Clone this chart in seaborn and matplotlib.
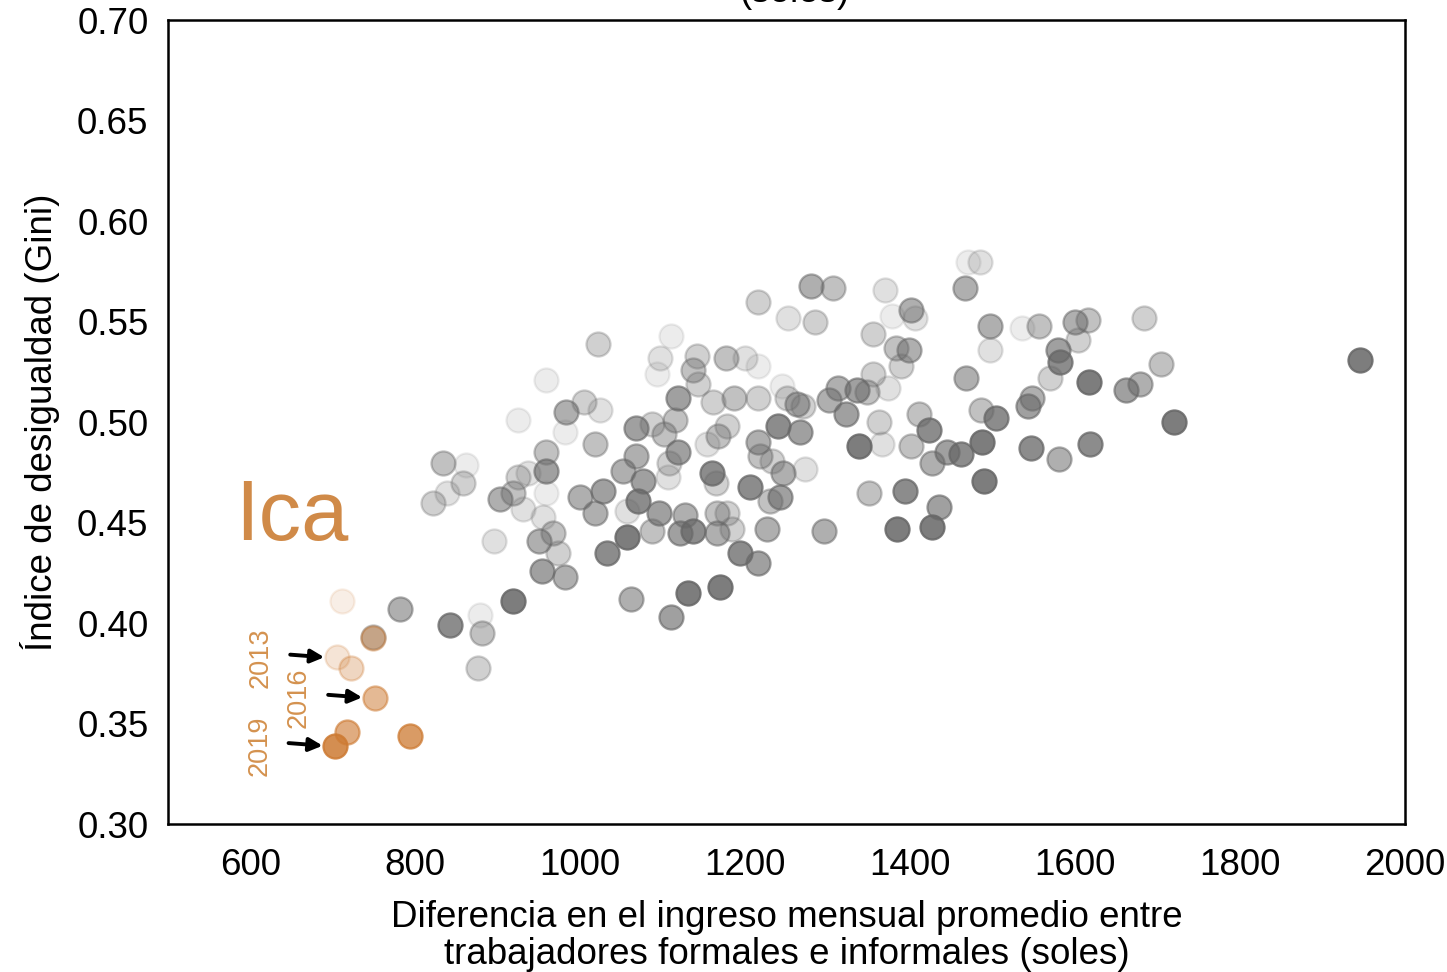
import matplotlib.pyplot as plt
import seaborn as sns
import pandas as pd

# datos: diferencia de ingreso (soles) vs Gini, por region y año
gris_x = [781, 842, 878, 881, 876, 918, 833, 861, 858, 839, 822, 924, 958, 895, 924, 937,
          903, 918, 931, 958, 955, 958, 959, 950, 967, 973, 954, 981, 983, 1004, 1024, 982,
          1022, 1018, 1000, 1028, 1018, 1032, 1057, 1061, 1067, 1087, 1052, 1067, 1076, 1070,
          1095, 1057, 1087, 1110, 1097, 1093, 1118, 1115, 1101, 1119, 1108, 1106, 1127, 1121,
          1137, 1131, 1110, 1142, 1137, 1143, 1161, 1154, 1167, 1178, 1160, 1164, 1166, 1178,
          1166, 1184, 1194, 1215, 1170, 1177, 1200, 1215, 1186, 1216, 1216, 1218, 1233, 1206,
          1246, 1230, 1242, 1226, 1216, 1252, 1285, 1245, 1251, 1263, 1270, 1240, 1267, 1273,
          1295, 1280, 1307, 1370, 1467, 1470, 1485, 1355, 1378, 1401, 1406, 1383, 1399, 1389,
          1355, 1373, 1313, 1336, 1348, 1302, 1322, 1362, 1338, 1366, 1401, 1411, 1423, 1427,
          1445, 1462, 1486, 1504, 1487, 1489, 1468, 1497, 1497, 1536, 1556, 1543, 1548, 1579,
          1582, 1570, 1600, 1616, 1603, 1617, 1662, 1679, 1683, 1704, 1720, 1546, 1581, 1618,
          1946, 1350, 1394, 1435, 1384, 1427, 749]
gris_y = [0.407, 0.399, 0.404, 0.395, 0.378, 0.411, 0.480, 0.479, 0.470, 0.465, 0.460, 0.501,
          0.521, 0.441, 0.473, 0.475, 0.462, 0.465, 0.457, 0.465, 0.453, 0.485, 0.476, 0.441,
          0.445, 0.435, 0.426, 0.423, 0.505, 0.510, 0.506, 0.495, 0.539, 0.489, 0.463, 0.466,
          0.455, 0.435, 0.443, 0.412, 0.497, 0.499, 0.476, 0.483, 0.471, 0.461, 0.455, 0.456,
          0.446, 0.543, 0.532, 0.524, 0.512, 0.501, 0.494, 0.485, 0.480, 0.473, 0.454, 0.445,
          0.446, 0.415, 0.403, 0.533, 0.526, 0.519, 0.510, 0.489, 0.493, 0.498, 0.475, 0.470,
          0.455, 0.455, 0.445, 0.447, 0.435, 0.430, 0.418, 0.532, 0.532, 0.528, 0.512, 0.512,
          0.490, 0.483, 0.481, 0.468, 0.475, 0.461, 0.463, 0.447, 0.560, 0.552, 0.550, 0.518,
          0.512, 0.509, 0.508, 0.498, 0.495, 0.477, 0.446, 0.568, 0.567, 0.566, 0.567, 0.580,
          0.580, 0.544, 0.553, 0.556, 0.552, 0.537, 0.536, 0.528, 0.524, 0.517, 0.517, 0.516,
          0.515, 0.511, 0.504, 0.500, 0.488, 0.489, 0.488, 0.504, 0.496, 0.480, 0.485, 0.484,
          0.506, 0.502, 0.490, 0.471, 0.522, 0.548, 0.536, 0.547, 0.548, 0.508, 0.512, 0.536,
          0.530, 0.522, 0.550, 0.551, 0.541, 0.520, 0.516, 0.519, 0.552, 0.529, 0.500, 0.487,
          0.482, 0.489, 0.531, 0.465, 0.466, 0.458, 0.447, 0.448, 0.393]
gris_anio = [2016, 2018, 2012, 2015, 2014, 2019, 2015, 2012, 2014, 2013, 2014, 2012, 2012, 2013,
             2014, 2013, 2016, 2015, 2013, 2012, 2013, 2015, 2017, 2016, 2015, 2014, 2017, 2016,
             2016, 2014, 2013, 2012, 2014, 2015, 2016, 2017, 2016, 2018, 2019, 2016, 2017, 2014,
             2016, 2016, 2017, 2018, 2017, 2013, 2015, 2012, 2013, 2012, 2017, 2015, 2015, 2017,
             2014, 2013, 2016, 2017, 2018, 2019, 2017, 2014, 2015, 2014, 2014, 2013, 2015, 2014,
             2018, 2014, 2015, 2014, 2016, 2014, 2018, 2017, 2019, 2015, 2013, 2012, 2015, 2014,
             2016, 2015, 2014, 2018, 2016, 2015, 2017, 2016, 2014, 2013, 2014, 2012, 2014, 2016,
             2014, 2018, 2017, 2013, 2016, 2016, 2015, 2013, 2016, 2012, 2013, 2014, 2012, 2016,
             2013, 2015, 2016, 2014, 2014, 2013, 2016, 2017, 2015, 2016, 2017, 2014, 2019, 2013,
             2015, 2015, 2018, 2016, 2017, 2018, 2015, 2018, 2019, 2019, 2016, 2016, 2013, 2012,
             2015, 2017, 2016, 2017, 2018, 2014, 2016, 2015, 2014, 2019, 2017, 2016, 2014, 2015,
             2019, 2018, 2016, 2018, 2019, 2015, 2018, 2017, 2019, 2019, 2015]

ica_x = [711, 705, 722, 749, 751, 717, 793, 703]
ica_y = [0.411, 0.383, 0.378, 0.3925, 0.363, 0.346, 0.344, 0.339]
ica_anio = [2012, 2013, 2014, 2015, 2016, 2017, 2018, 2019]
anios_marcados = [2013, 2016, 2019]

transparencia = {2012: 0.12, 2013: 0.2, 2014: 0.3, 2015: 0.4,
                 2016: 0.52, 2017: 0.62, 2018: 0.75, 2019: 0.85}

gris = pd.DataFrame({"x": gris_x, "y": gris_y, "anio": gris_anio})
ica = pd.DataFrame({"x": ica_x, "y": ica_y, "anio": ica_anio})

sns.set_style("white")
plt.rcParams["font.family"] = ["Liberation Sans", "DejaVu Sans"]
plt.rcParams["text.color"] = "black"
plt.rcParams["axes.labelcolor"] = "black"
plt.rcParams["xtick.color"] = "black"
plt.rcParams["ytick.color"] = "black"

naranja = "#CD7A32"
fig = plt.figure(figsize=(14.47, 9.72), dpi=100)
ax = fig.add_axes([0.116, 0.152, 0.855, 0.827])

for anio in sorted(transparencia):
    sub = gris[gris["anio"] == anio]
    sns.scatterplot(data=sub, x="x", y="y", ax=ax, color="#666666", edgecolor="#666666",
                    s=300, linewidth=1.6, alpha=transparencia[anio], legend=False)
for anio in ica_anio:
    sub = ica[ica["anio"] == anio]
    sns.scatterplot(data=sub, x="x", y="y", ax=ax, color=naranja, edgecolor=naranja,
                    s=300, linewidth=1.6, alpha=transparencia[anio], legend=False)

# flechas y etiquetas de año
for anio in anios_marcados:
    fila = ica[ica["anio"] == anio].iloc[0]
    punta = (fila["x"] - 12, fila["y"])
    cola = (fila["x"] - 60, fila["y"] + 0.0015)
    ax.annotate("", xy=punta, xytext=cola,
                arrowprops=dict(arrowstyle="-|>", color="black", lw=2.8, mutation_scale=20))
    ax.text(cola[0] - 32, fila["y"], str(anio), rotation=90, ha="center", va="center",
            fontsize=19.5, color="#D4924F")

ax.text(0.054, 0.353, "Ica", transform=ax.transAxes, fontsize=61, color="#D08A48",
        ha="left", va="baseline")

ax.set_xlim(500, 2000)
ax.set_ylim(0.30, 0.70)
ax.set_xticks([600, 800, 1000, 1200, 1400, 1600, 1800, 2000])
ax.set_yticks([0.30, 0.35, 0.40, 0.45, 0.50, 0.55, 0.60, 0.65, 0.70])
ax.set_yticklabels([f"{v:.2f}" for v in ax.get_yticks()])
ax.tick_params(labelsize=26.5, pad=14, length=0)
ax.tick_params(axis="x", pad=17)
ax.set_xlabel("Diferencia en el ingreso mensual promedio entre\n"
              "trabajadores formales e informales (soles)", fontsize=26.5, labelpad=12,
              linespacing=1.1)
ax.set_ylabel("Índice de desigualdad (Gini)", fontsize=26.5, labelpad=12)
for sp in ax.spines.values():
    sp.set_color("black")
    sp.set_linewidth(1.8)

fig.text(0.549, 0.998, "(soles)", ha="center", va="baseline", fontsize=26.5)

fig.savefig("out.png", dpi=100)
